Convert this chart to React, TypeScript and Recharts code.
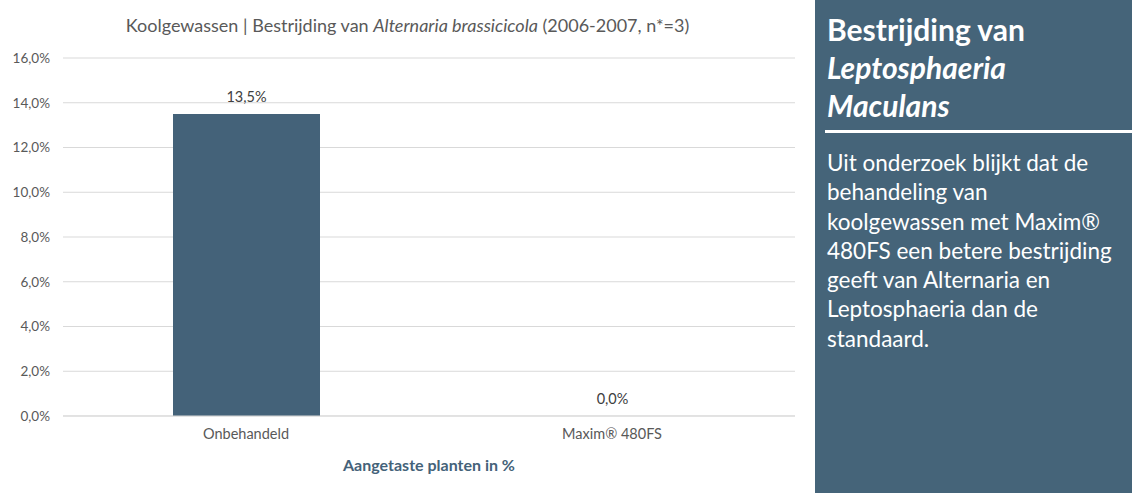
import React from 'react';
import { BarChart, Bar, XAxis, YAxis, CartesianGrid, LabelList } from 'recharts';

const categories = ['Onbehandeld', 'Maxim\u00ae 480FS'];
const values = [0.135, 0.0];
const yTicks = [0, 0.02, 0.04, 0.06, 0.08, 0.1, 0.12, 0.14, 0.16];
const bodyLines = [
  'Uit onderzoek blijkt dat de',
  'behandeling van',
  'koolgewassen met Maxim\u00ae',
  '480FS een betere bestrijding',
  'geeft van Alternaria en',
  'Leptosphaeria dan de',
  'standaard.',
];

const BAR_COLOR = '#446279';
const PANEL_COLOR = '#456479';
const FONT = 'Lato, "Open Sans", sans-serif';

const pct = (v: number) => `${(v * 100).toFixed(1).replace('.', ',')}%`;

// value above each bar, also for the empty one
const ValueLabel = (props: any) => {
  const { x, y, width, value } = props;
  return (
    <text x={x + width / 2} y={y - 12} textAnchor="middle" fill="#404040" fontSize={14.5} fontFamily={FONT}>
      {pct(Number(value))}
    </text>
  );
};

export default function App() {
  const chartData = categories.map((name, i) => ({ name, value: values[i] }));

  return (
    <div style={{ position: 'absolute', left: 0, top: 0, width: 1132, height: 493, background: '#fff', fontFamily: FONT, overflow: 'hidden' }}>
      <div style={{ position: 'absolute', left: 0, top: 14, width: 815, textAlign: 'center', fontSize: 18, color: '#595959' }}>
        Koolgewassen | Bestrijding van <i>Alternaria brassicicola</i> (2006-2007, n*=3)
      </div>
      <div style={{ position: 'absolute', left: 0, top: 0 }}>
        <BarChart width={815} height={493} data={chartData} margin={{ top: 58, right: 20, left: 0, bottom: 0 }}>
          <CartesianGrid vertical={false} stroke="#d9d9d9" />
          <XAxis
            dataKey="name"
            height={77}
            tickSize={0}
            tickMargin={13}
            axisLine={{ stroke: '#d9d9d9' }}
            tick={{ fill: '#595959', fontSize: 14.5, fontFamily: FONT }}
            label={{ value: 'Aangetaste planten in %', position: 'insideBottom', offset: 22, fill: BAR_COLOR, fontSize: 16, fontWeight: 700, fontFamily: FONT }}
          />
          <YAxis
            width={63}
            domain={[0, 0.16]}
            ticks={yTicks}
            tickFormatter={pct}
            tickSize={0}
            tickMargin={13}
            axisLine={false}
            tick={{ fill: '#595959', fontSize: 13.5, fontFamily: FONT }}
          />
          <Bar dataKey="value" fill={BAR_COLOR} barSize={147} minPointSize={0.01} isAnimationActive={false}>
            <LabelList dataKey="value" content={ValueLabel} />
          </Bar>
        </BarChart>
      </div>
      <div style={{ position: 'absolute', left: 815, top: 0, width: 317, height: 493, background: PANEL_COLOR, color: '#fff' }}>
        <div style={{ position: 'absolute', left: 12, top: 10, fontSize: 30, fontWeight: 700, lineHeight: '38px', whiteSpace: 'nowrap' }}>
          <div>Bestrijding van</div>
          <div><i>Leptosphaeria</i></div>
          <div><i>Maculans</i></div>
        </div>
        <div style={{ position: 'absolute', left: 10, top: 130, width: 307, height: 3, background: '#fff' }} />
        <div style={{ position: 'absolute', left: 12, top: 148, fontSize: 22.5, lineHeight: '29.3px', whiteSpace: 'nowrap' }}>
          {bodyLines.map((l) => (
            <div key={l}>{l}</div>
          ))}
        </div>
      </div>
    </div>
  );
}
